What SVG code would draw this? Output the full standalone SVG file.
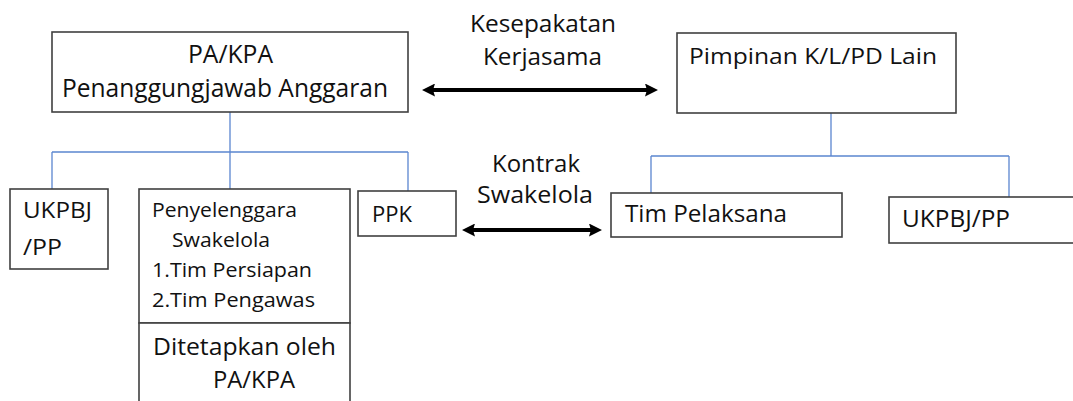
<svg xmlns="http://www.w3.org/2000/svg" width="1073" height="401" viewBox="0 0 1073 401">
  <style>
    .box { fill: #ffffff; stroke: #404040; stroke-width: 1.6; }
    .t { font-family: "Open Sans", "Noto Sans", "Liberation Sans", sans-serif; fill: #111111; }
    .tree { fill: none; stroke: #5b86d0; stroke-width: 1.3; }
    .arrow { fill: none; stroke: #000000; stroke-width: 4; }
  </style>
  <defs>
    <marker id="head" viewBox="0 0 10 10" refX="2" refY="5" markerWidth="3.25" markerHeight="3.25" orient="auto-start-reverse" markerUnits="strokeWidth">
      <path d="M0,0 L10,5 L0,10 L1.5,5 Z" fill="#000000"/>
    </marker>
  </defs>

  <rect width="1073" height="401" fill="#ffffff"/>

  <!-- connectors -->
  <g id="connectors">
    <!-- PA/KPA tree -->
    <path class="tree" d="M230,112 V152 M52,152 H408 M52,152 V189 M230,152 V189 M408,152 V191"/>
    <!-- Pimpinan tree -->
    <path class="tree" d="M831,113 V156 M651,156 H1009 M651,156 V193 M1009,156 V197"/>
    <!-- agreement arrows -->
    <line class="arrow" x1="432.4" y1="90" x2="647.6" y2="90" marker-start="url(#head)" marker-end="url(#head)"/>
    <line class="arrow" x1="472.4" y1="230" x2="591.6" y2="230" marker-start="url(#head)" marker-end="url(#head)"/>
    <text class="t" x="470" y="32" font-size="24" textLength="146" lengthAdjust="spacingAndGlyphs">Kesepakatan</text>
    <text class="t" x="483" y="65" font-size="24" textLength="119" lengthAdjust="spacingAndGlyphs">Kerjasama</text>
    <text class="t" x="492" y="172" font-size="23.5" textLength="88" lengthAdjust="spacingAndGlyphs">Kontrak</text>
    <text class="t" x="477" y="203" font-size="23.5" textLength="116" lengthAdjust="spacingAndGlyphs">Swakelola</text>
  </g>

  <g id="pa-kpa">
    <rect class="box" x="52" y="32" width="356" height="80"/>
    <text class="t" x="188" y="63" font-size="25" textLength="85" lengthAdjust="spacingAndGlyphs">PA/KPA</text>
    <text class="t" x="62" y="97" font-size="25" textLength="326" lengthAdjust="spacingAndGlyphs">Penanggungjawab Anggaran</text>
  </g>

  <g id="pimpinan">
    <rect class="box" x="677" y="33" width="279" height="80"/>
    <text class="t" x="689" y="64" font-size="22.5" textLength="248" lengthAdjust="spacingAndGlyphs">Pimpinan K/L/PD Lain</text>
  </g>

  <g id="ukpbj-left">
    <rect class="box" x="10" y="189" width="98" height="80"/>
    <text class="t" x="23" y="218" font-size="22" textLength="69" lengthAdjust="spacingAndGlyphs">UKPBJ</text>
    <text class="t" x="23" y="255" font-size="22" textLength="39" lengthAdjust="spacingAndGlyphs">/PP</text>
  </g>

  <g id="penyelenggara">
    <rect class="box" x="139" y="189" width="211" height="134"/>
    <text class="t" x="152" y="217" font-size="20" textLength="145" lengthAdjust="spacingAndGlyphs">Penyelenggara</text>
    <text class="t" x="172" y="247" font-size="20" textLength="98" lengthAdjust="spacingAndGlyphs">Swakelola</text>
    <text class="t" x="152" y="277" font-size="20" textLength="160" lengthAdjust="spacingAndGlyphs">1.Tim Persiapan</text>
    <text class="t" x="152" y="307" font-size="20" textLength="163" lengthAdjust="spacingAndGlyphs">2.Tim Pengawas</text>
  </g>

  <g id="ditetapkan">
    <rect class="box" x="139" y="323" width="211" height="100"/>
    <text class="t" x="153" y="355" font-size="23" textLength="183" lengthAdjust="spacingAndGlyphs">Ditetapkan oleh</text>
    <text class="t" x="213" y="388" font-size="23" textLength="82" lengthAdjust="spacingAndGlyphs">PA/KPA</text>
  </g>

  <g id="ppk">
    <rect class="box" x="358" y="191" width="98" height="45"/>
    <text class="t" x="372" y="222" font-size="21.5" textLength="40" lengthAdjust="spacingAndGlyphs">PPK</text>
  </g>

  <g id="tim-pelaksana">
    <rect class="box" x="611" y="193" width="231" height="44"/>
    <text class="t" x="625" y="222" font-size="23" textLength="162" lengthAdjust="spacingAndGlyphs">Tim Pelaksana</text>
  </g>

  <g id="ukpbj-right">
    <rect class="box" x="889" y="197" width="200" height="46"/>
    <text class="t" x="902" y="227" font-size="23" textLength="108" lengthAdjust="spacingAndGlyphs">UKPBJ/PP</text>
  </g>
</svg>
